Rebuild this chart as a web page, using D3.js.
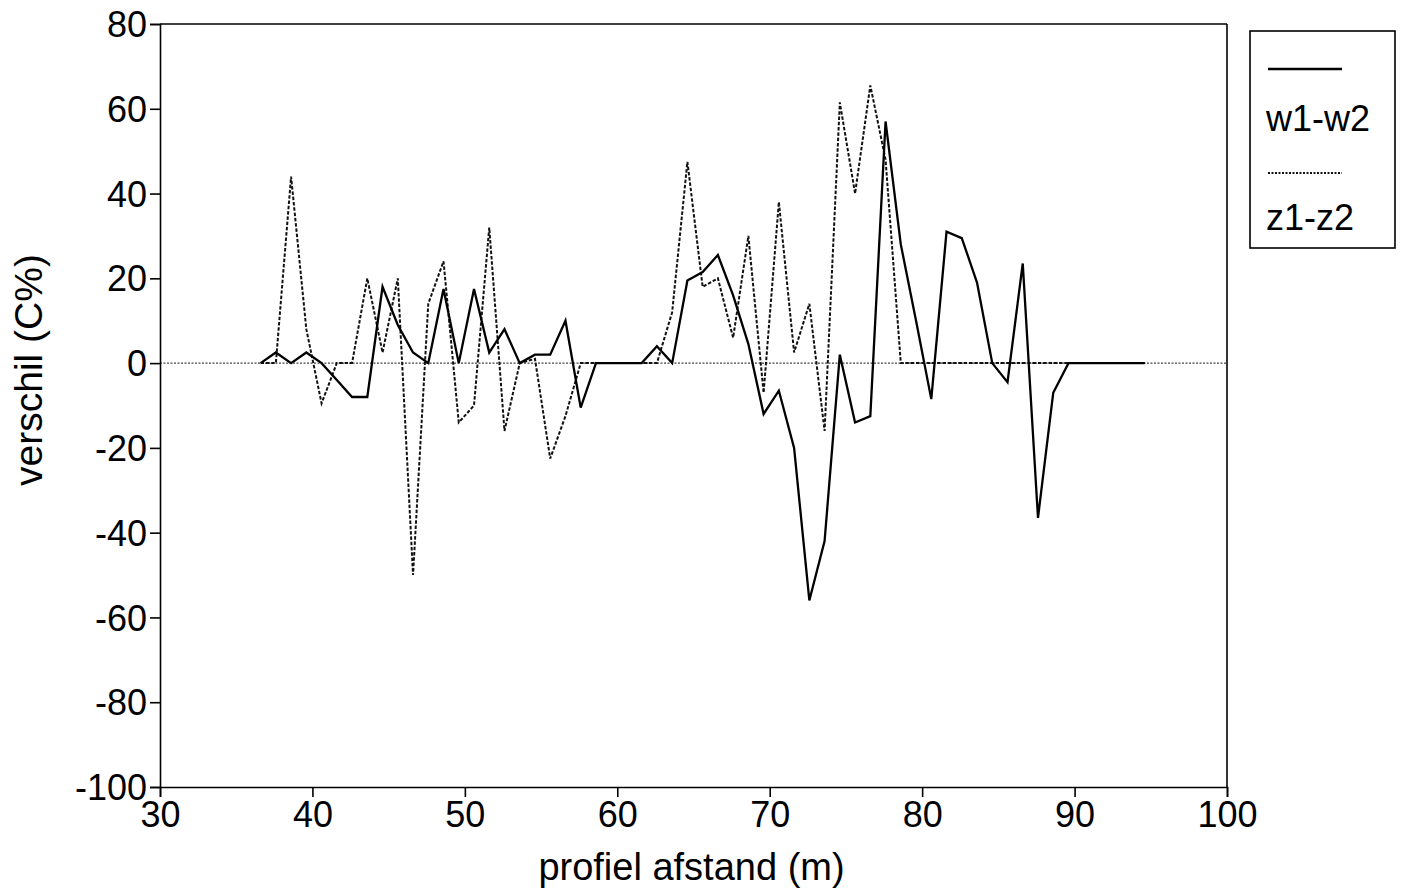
<!DOCTYPE html>
<html>
<head>
<meta charset="utf-8">
<script src="https://cdn.jsdelivr.net/npm/d3@7"></script>
<style>
  html, body { margin: 0; padding: 0; background: #fff; }
  svg { display: block; font-family: "Liberation Sans", Arial, Helvetica, sans-serif; }
</style>
</head>
<body>
<svg id="chart" width="1407" height="893"></svg>
<script>
// ---- data ----
const distance = [36.6, 37.6, 38.6, 39.6, 40.6, 41.6, 42.6, 43.6, 44.6, 45.6,
                  46.6, 47.6, 48.6, 49.6, 50.6, 51.6, 52.6, 53.6, 54.6, 55.6,
                  56.6, 57.6, 58.6, 59.6, 60.6, 61.6, 62.6, 63.6, 64.6, 65.6,
                  66.6, 67.6, 68.6, 69.6, 70.6, 71.6, 72.6, 73.6, 74.6, 75.6,
                  76.6, 77.6, 78.6, 79.6, 80.6, 81.6, 82.6, 83.6, 84.6, 85.6,
                  86.6, 87.6, 88.6, 89.6, 90.6, 91.6, 92.6, 93.6, 94.6];
const w1w2 = [0, 2.5, 0, 2.5, 0, -4, -8, -8, 18, 9,
              2.5, 0, 17.5, 0, 17.5, 2.5, 8, 0, 2, 2,
              10, -10.5, 0, 0, 0, 0, 4, 0, 19.5, 21.5,
              25.5, 16, 4.5, -12, -6.5, -20, -56, -42, 2, -14,
              -12.5, 57, 28, 10, -8.5, 31, 29.5, 19, 0, -4.5,
              23.5, -36.5, -7, 0, 0, 0, 0, 0, 0];
const z1z2 = [0, 0, 44, 8, -9.5, 0, 0, 20, 2.5, 20,
              -50, 14, 24, -14, -10, 32, -16, 0, 1, -22.5,
              -12.5, 0, 0, 0, 0, 0, 0, 12, 47.5, 18,
              20, 6, 30, -7, 38, 2.5, 14, -16, 61.5, 40,
              65.5, 48, 0, 0, 0, 0, 0, 0, 0, 0,
              0, 0, 0, 0, 0, 0, 0, 0, 0];
const xTicks = [30, 40, 50, 60, 70, 80, 90, 100];
const yTicks = [80, 60, 40, 20, 0, -20, -40, -60, -80, -100];
const seriesNames = ["w1-w2", "z1-z2"];

// ---- layout ----
const svg = d3.select("#chart");
const L = 160, R = 1227, T = 24, B = 787;
const x = d3.scaleLinear().domain([30, 100]).range([L, R]);
const y = d3.scaleLinear().domain([-100, 80]).range([B, T]);

// zero reference line (dotted)
svg.append("line")
  .attr("x1", x(30)).attr("x2", x(100))
  .attr("y1", y(0)).attr("y2", y(0))
  .attr("stroke", "#444").attr("stroke-width", 1.3)
  .attr("stroke-dasharray", "2,1.5");

// axes
const fontTick = 36;
const fmt = d => String(d);  // plain hyphen-minus as in the reference
const xAxis = d3.axisBottom(x).tickValues(xTicks).tickSize(10).tickPadding(4).tickFormat(fmt);
const yAxis = d3.axisLeft(y).tickValues(yTicks).tickSize(10).tickPadding(3).tickFormat(fmt);

const gx = svg.append("g").attr("transform", `translate(0,${B})`).call(xAxis);
const gy = svg.append("g").attr("transform", `translate(${L},0)`).call(yAxis);
[gx, gy].forEach(g => {
  g.select(".domain").attr("stroke", "#000").attr("stroke-width", 1.6);
  g.selectAll(".tick line").attr("stroke", "#000").attr("stroke-width", 1.6);
  g.selectAll(".tick text").attr("fill", "#000")
    .style("font-size", fontTick + "px")
    .style("font-family", '"Liberation Sans", Arial, sans-serif');
});
gy.selectAll(".tick text").attr("dy", "0.35em");

// top and right frame
svg.append("line").attr("x1", L).attr("x2", R).attr("y1", T).attr("y2", T)
  .attr("stroke", "#000").attr("stroke-width", 1.6);
svg.append("line").attr("x1", R).attr("x2", R).attr("y1", T).attr("y2", B)
  .attr("stroke", "#000").attr("stroke-width", 1.6);

// series lines
const line = d3.line().x(d => x(d[0])).y(d => y(d[1]));
const dataW = distance.map((d, i) => [d, w1w2[i]]);
const dataZ = distance.map((d, i) => [d, z1z2[i]]);

svg.append("path").datum(dataZ)
  .attr("d", line).attr("fill", "none")
  .attr("stroke", "#111").attr("stroke-width", 2)
  .attr("stroke-dasharray", "3.5,1.8");

svg.append("path").datum(dataW)
  .attr("d", line).attr("fill", "none")
  .attr("stroke", "#000").attr("stroke-width", 2.3)
  .attr("stroke-linejoin", "miter");

// axis titles
svg.append("text")
  .attr("x", (L + R) / 2 - 2).attr("y", 880)
  .attr("text-anchor", "middle")
  .style("font-size", "38px")
  .text("profiel afstand (m)");

svg.append("text")
  .attr("transform", "translate(42,370) rotate(-90)")
  .attr("text-anchor", "middle")
  .style("font-size", "39px")
  .text("verschil (C%)");

// legend
const lg = svg.append("g");
lg.append("rect").attr("x", 1250).attr("y", 31).attr("width", 145).attr("height", 217)
  .attr("fill", "#fff").attr("stroke", "#000").attr("stroke-width", 1.6);
lg.append("line").attr("x1", 1268).attr("x2", 1342).attr("y1", 69).attr("y2", 69)
  .attr("stroke", "#000").attr("stroke-width", 2.3);
lg.append("text").attr("x", 1266).attr("y", 131).style("font-size", "36px").text(seriesNames[0]);
lg.append("line").attr("x1", 1268).attr("x2", 1342).attr("y1", 173).attr("y2", 173)
  .attr("stroke", "#111").attr("stroke-width", 2).attr("stroke-dasharray", "2,1.5");
lg.append("text").attr("x", 1266).attr("y", 230).style("font-size", "36px").text(seriesNames[1]);
</script>
</body>
</html>
